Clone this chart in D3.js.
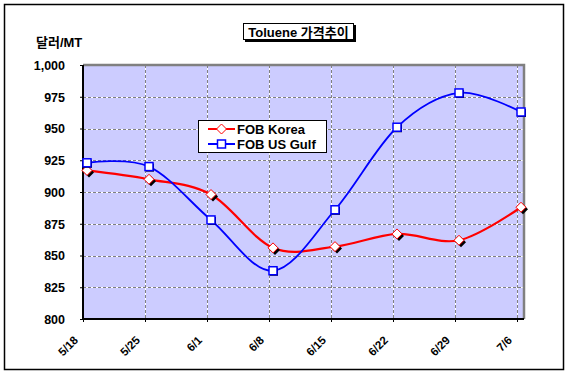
<!DOCTYPE html>
<html>
<head>
<meta charset="utf-8">
<script src="https://cdn.jsdelivr.net/npm/d3@7"></script>
<style>
  body { margin: 0; background: #fff; }
  text { font-family: "Liberation Sans", Arial, "Noto Sans CJK KR", sans-serif; font-weight: bold; fill: #000; }
</style>
</head>
<body>
<svg id="chart" width="570" height="378"></svg>
<script>
const categories = ["5/18", "5/25", "6/1", "6/8", "6/15", "6/22", "6/29", "7/6"];
const fobKorea = [917, 910, 898, 856, 857, 867, 862, 888];
const fobUsGulf = [923, 920, 878, 838, 886, 951, 978, 963];
const yTicks = [800, 825, 850, 875, 900, 925, 950, 975, 1000];
const seriesNames = ["FOB Korea", "FOB US Gulf"];

const svg = d3.select("#chart");

// outer frame
svg.append("rect")
  .attr("x", 4.5).attr("y", 4.5)
  .attr("width", 559).attr("height", 365)
  .attr("fill", "#fff").attr("stroke", "#000").attr("stroke-width", 1.5);

const pLeft = 83, pRight = 524, pTop = 65, pBottom = 319;

const x = d3.scalePoint().domain(categories).range([87, 521]);
const y = d3.scaleLinear().domain([800, 1000]).range([pBottom, pTop]);

// plot area
svg.append("rect")
  .attr("x", pLeft).attr("y", pTop)
  .attr("width", pRight - pLeft).attr("height", pBottom - pTop)
  .attr("fill", "#ccccff");

// gridlines: white under, gray dashes over
const grid = svg.append("g");
yTicks.slice(1, -1).forEach(v => {
  [["#fff", null], ["#808080", "3,2"]].forEach(([c, dash]) => {
    grid.append("line")
      .attr("x1", pLeft).attr("x2", pRight)
      .attr("y1", Math.round(y(v)) + 0.5).attr("y2", Math.round(y(v)) + 0.5)
      .attr("stroke", c).attr("stroke-dasharray", dash);
  });
});
categories.slice(1).forEach(c => {
  const gx = Math.round(x(c)) - 4 + 0.5;
  [["#fff", null], ["#808080", "3,2"]].forEach(([col, dash]) => {
    grid.append("line")
      .attr("x1", gx).attr("x2", gx)
      .attr("y1", pTop).attr("y2", pBottom)
      .attr("stroke", col).attr("stroke-dasharray", dash);
  });
});

// plot border: gray top/right, black left/bottom
svg.append("path")
  .attr("d", `M${pLeft},${pTop}H${pRight}V${pBottom}`)
  .attr("fill", "none").attr("stroke", "#808080").attr("stroke-width", 2.5);
svg.append("path")
  .attr("d", `M${pLeft},${pTop}V${pBottom}H${pRight}`)
  .attr("fill", "none").attr("stroke", "#000").attr("stroke-width", 2);

// y axis labels
const yAxis = d3.axisLeft(y).tickValues(yTicks).tickSize(3).tickPadding(15)
  .tickFormat(d3.format(","));
const yG = svg.append("g").attr("transform", `translate(${pLeft},0)`).call(yAxis);
yG.select(".domain").remove();
yG.selectAll("line").attr("stroke", "#000");
yG.selectAll("text").style("font-size", "12.5px").attr("dy", "0.35em");

// x axis labels
const xG = svg.append("g").attr("transform", `translate(0,${pBottom})`);
xG.selectAll("line").data(categories).join("line")
  .attr("x1", d => Math.round(x(d)) - 4 + 0.5).attr("x2", d => Math.round(x(d)) - 4 + 0.5)
  .attr("y1", 0).attr("y2", 3).attr("stroke", "#000");
xG.selectAll("text").data(categories).join("text")
  .attr("transform", d => `translate(${x(d) - 11},${19}) rotate(-45)`)
  .attr("text-anchor", "end")
  .attr("dy", "0.35em")
  .style("font-size", "11.5px")
  .text(d => d);

// y axis title
svg.append("text").attr("x", 36).attr("y", 47)
  .style("font-size", "13px").text("달러/MT");

// title box
svg.append("rect").attr("x", 245).attr("y", 25).attr("width", 111).attr("height", 17).attr("fill", "#000");
svg.append("rect").attr("x", 243.5).attr("y", 23.5).attr("width", 110).attr("height", 16)
  .attr("fill", "#fff").attr("stroke", "#000");
svg.append("text").attr("x", 298.5).attr("y", 36.5)
  .attr("text-anchor", "middle").style("font-size", "13px").text("Toluene 가격추이");

// series
const line = d3.line()
  .x((d, i) => x(categories[i]))
  .y(d => y(d))
  .curve(d3.curveCatmullRom.alpha(0));

svg.append("path").datum(fobKorea).attr("d", line)
  .attr("fill", "none").attr("stroke", "#ff0000").attr("stroke-width", 2.2);
svg.append("path").datum(fobUsGulf).attr("d", line)
  .attr("fill", "none").attr("stroke", "#0000ff").attr("stroke-width", 1.8);

const diamond = (cx, cy, r) => `M${cx},${cy - r}L${cx + r},${cy}L${cx},${cy + r}L${cx - r},${cy}Z`;

function drawDiamond(g, cx, cy) {
  g.append("path").attr("d", diamond(cx + 2, cy + 2, 5)).attr("fill", "#000");
  g.append("path").attr("d", diamond(cx, cy, 5))
    .attr("fill", "#fff").attr("stroke", "#ff0000").attr("stroke-width", 1);
}
function drawSquare(g, cx, cy) {
  g.append("rect").attr("x", cx - 3).attr("y", cy - 3).attr("width", 8).attr("height", 8).attr("fill", "#000");
  g.append("rect").attr("x", cx - 4).attr("y", cy - 4).attr("width", 8).attr("height", 8)
    .attr("fill", "#fff").attr("stroke", "#0000ff").attr("stroke-width", 1.5);
}

const marks = svg.append("g");
fobKorea.forEach((v, i) => drawDiamond(marks, x(categories[i]), y(v)));
fobUsGulf.forEach((v, i) => drawSquare(marks, x(categories[i]), y(v)));

// legend
const lg = svg.append("g");
lg.append("rect").attr("x", 198.5).attr("y", 120.5).attr("width", 128).attr("height", 32)
  .attr("fill", "#fff").attr("stroke", "#000");
const rows = [
  { name: seriesNames[0], color: "#ff0000", yy: 129, mark: "d" },
  { name: seriesNames[1], color: "#0000ff", yy: 144, mark: "s" }
];
rows.forEach(r => {
  lg.append("line").attr("x1", 208).attr("x2", 235).attr("y1", r.yy).attr("y2", r.yy)
    .attr("stroke", r.color).attr("stroke-width", 2);
  if (r.mark === "d") {
    lg.append("path").attr("d", diamond(221.5, r.yy, 5)).attr("fill", "#fff").attr("stroke", r.color);
  } else {
    lg.append("rect").attr("x", 217.5).attr("y", r.yy - 4).attr("width", 8).attr("height", 8)
      .attr("fill", "#fff").attr("stroke", r.color).attr("stroke-width", 1.5);
  }
  lg.append("text").attr("x", 237).attr("y", r.yy).attr("dy", "0.35em")
    .style("font-size", "13px").text(r.name);
});
</script>
</body>
</html>
